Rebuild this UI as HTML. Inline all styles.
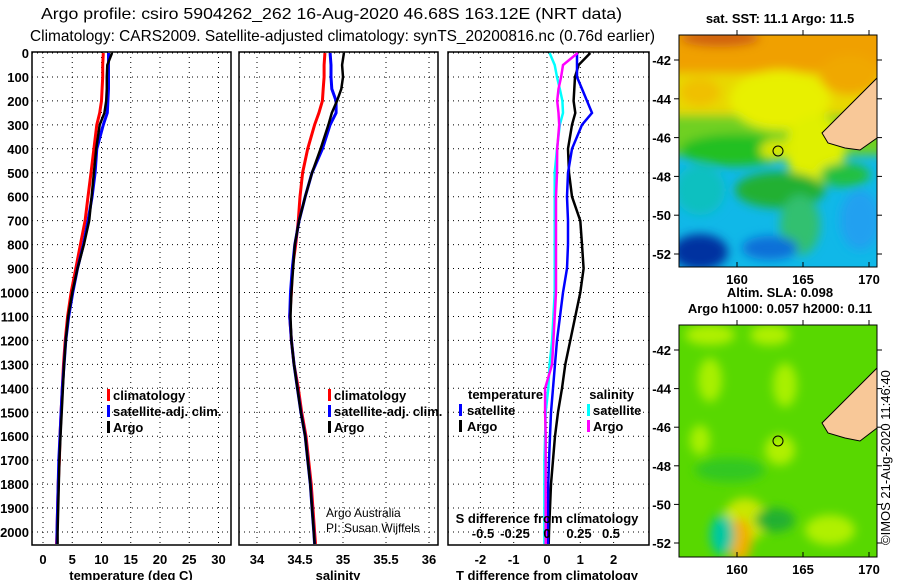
<!DOCTYPE html>
<html><head><meta charset="utf-8"><style>
body{margin:0;background:#fff}
svg{display:block;font-family:"Liberation Sans",sans-serif}
.tk{font-size:13px;font-weight:bold}
.lg{font-size:13px;font-weight:bold}
.plain{font-size:12px}
</style></head><body>
<svg id="c" width="900" height="580" viewBox="0 0 900 580">
<defs>
<filter id="bl" x="-20%" y="-20%" width="140%" height="140%"><feGaussianBlur stdDeviation="5"/></filter>
<clipPath id="m1c"><rect x="679" y="35" width="198" height="232"/></clipPath>
<clipPath id="m2c"><rect x="679" y="325" width="198" height="232"/></clipPath>
</defs>
<text x="41" y="19" font-size="16" textLength="581" lengthAdjust="spacingAndGlyphs">Argo profile: csiro 5904262_262 16-Aug-2020 46.68S 163.12E (NRT data)</text>
<text x="30" y="41" font-size="16" textLength="625" lengthAdjust="spacingAndGlyphs">Climatology: CARS2009. Satellite-adjusted climatology: synTS_20200816.nc (0.76d earlier)</text>

<g>
<text x="780" y="23" class="tk" text-anchor="middle">sat. SST: 11.1 Argo: 11.5</text>
<g clip-path="url(#m1c)">
<rect x="679" y="35" width="198" height="232" fill="#10b8e8"/>
<g filter="url(#bl)">
<rect x="670" y="115" width="220" height="40" fill="#70d020"/>
<rect x="670" y="25" width="220" height="90" fill="#e8d800"/>
<rect x="670" y="25" width="220" height="48" fill="#f0a000"/>
<ellipse cx="720" cy="38" rx="40" ry="9" fill="#d06010"/>
<ellipse cx="850" cy="75" rx="30" ry="20" fill="#f0a800"/>
<ellipse cx="700" cy="92" rx="20" ry="14" fill="#f0c000"/>
<ellipse cx="780" cy="100" rx="50" ry="30" fill="#e8f000"/>
<ellipse cx="815" cy="150" rx="30" ry="35" fill="#e0f000"/>
<ellipse cx="735" cy="150" rx="55" ry="16" fill="#20c020"/>
<ellipse cx="780" cy="190" rx="45" ry="18" fill="#20b030"/>
<ellipse cx="845" cy="175" rx="25" ry="12" fill="#20c040"/>
<ellipse cx="775" cy="150" rx="15" ry="10" fill="#d8e800"/>
<ellipse cx="700" cy="190" rx="25" ry="25" fill="#10c0c0"/>
<ellipse cx="800" cy="225" rx="20" ry="30" fill="#30c070"/>
<ellipse cx="700" cy="252" rx="28" ry="18" fill="#0030a0"/>
<ellipse cx="770" cy="248" rx="28" ry="12" fill="#1070d8"/>
<ellipse cx="860" cy="220" rx="20" ry="30" fill="#20a0f0"/>
</g>
<path d="M877,78 L865,90 L850,105 L835,120 L822,133 L828,143 L845,148 L860,150 L877,138 Z" fill="#f8c898" stroke="#000" stroke-width="1"/>
<circle cx="778" cy="151" r="5" fill="none" stroke="#000"/>
</g>
<rect x="679" y="35" width="198" height="232" fill="none" stroke="#000"/>
</g>

<g>
<text x="780" y="297" class="tk" text-anchor="middle">Altim. SLA: 0.098</text>
<text x="780" y="313" class="tk" text-anchor="middle">Argo h1000: 0.057 h2000: 0.11</text>
<g clip-path="url(#m2c)">
<rect x="679" y="325" width="198" height="232" fill="#58d800"/>
<g filter="url(#bl)">
<ellipse cx="710" cy="335" rx="25" ry="10" fill="#b0f000"/>
<ellipse cx="770" cy="335" rx="20" ry="10" fill="#b0f000"/>
<ellipse cx="710" cy="380" rx="12" ry="22" fill="#a8f000"/>
<ellipse cx="785" cy="385" rx="12" ry="22" fill="#a8f000"/>
<ellipse cx="730" cy="470" rx="35" ry="12" fill="#30c820"/>
<ellipse cx="700" cy="440" rx="10" ry="15" fill="#a8f000"/>
<ellipse cx="780" cy="450" rx="15" ry="15" fill="#b0f000"/>
<ellipse cx="745" cy="520" rx="22" ry="22" fill="#c8e800"/>
<ellipse cx="740" cy="540" rx="12" ry="22" fill="#f0b000"/>
<ellipse cx="722" cy="535" rx="12" ry="20" fill="#00c8a0"/>
<ellipse cx="775" cy="520" rx="20" ry="12" fill="#20b030"/>
<ellipse cx="830" cy="530" rx="25" ry="15" fill="#b0f000"/>
</g>
<path d="M877,368 L865,380 L850,395 L835,410 L822,423 L828,433 L845,438 L860,441 L877,428 Z" fill="#f8c898" stroke="#000" stroke-width="1"/>
<circle cx="778" cy="441" r="5" fill="none" stroke="#000"/>
</g>
<rect x="679" y="325" width="198" height="232" fill="none" stroke="#000"/>
<text x="890" y="545" font-size="13" transform="rotate(-90 890 545)">©IMOS 21-Aug-2020 11:46:40</text>
</g>
<g id="plots"></g>
</svg>
<script>
const depths=[0,50,100,150,200,250,300,400,500,600,700,800,900,1000,1100,1200,1300,1400,1500,1600,1700,1800,1900,2000,2050];
const tempArgo=[11.8,11.0,10.9,10.9,10.8,10.5,9.7,9.1,8.7,8.3,7.9,7.0,5.9,5.0,4.3,3.9,3.6,3.4,3.2,3.0,2.8,2.7,2.6,2.5,2.5];
const tempClim=[10.3,10.2,10.2,10.1,10.0,9.7,9.2,8.7,8.2,7.7,7.2,6.4,5.6,4.8,4.2,3.8,3.5,3.3,3.1,2.9,2.8,2.6,2.5,2.4,2.3];
const tempSat=[11.2,11.2,11.2,11.2,11.1,11.0,10.3,9.2,8.9,8.4,7.7,6.9,5.9,5.1,4.4,3.9,3.6,3.3,3.1,2.9,2.7,2.6,2.5,2.4,2.4];
const salArgo=[35.01,34.99,35.00,34.98,34.93,34.87,34.83,34.74,34.64,34.56,34.49,34.44,34.42,34.40,34.39,34.40,34.43,34.47,34.51,34.56,34.59,34.62,34.64,34.66,34.67];
const salClim=[34.79,34.78,34.78,34.77,34.76,34.72,34.67,34.59,34.53,34.50,34.48,34.45,34.41,34.40,34.38,34.40,34.43,34.48,34.52,34.57,34.60,34.63,34.65,34.67,34.68];
const salSat=[34.85,34.86,34.86,34.87,34.92,34.92,34.85,34.76,34.64,34.56,34.49,34.44,34.41,34.39,34.38,34.40,34.43,34.47,34.51,34.56,34.59,34.62,34.64,34.66,34.67];
const dTArgo=[1.3,0.95,0.84,0.82,0.8,0.85,0.75,0.63,0.66,0.75,1.0,1.05,1.1,1.0,0.85,0.7,0.55,0.45,0.33,0.24,0.18,0.12,0.09,0.06,0.05];
const dTSat=[0.9,0.9,0.9,1.05,1.2,1.35,1.05,0.75,0.63,0.6,0.63,0.63,0.6,0.48,0.39,0.3,0.24,0.18,0.12,0.09,0.06,0.04,0.03,0.03,0.03];
const dSArgo=[0.24,0.125,0.11,0.09,0.08,0.09,0.095,0.08,0.078,0.07,0.07,0.07,0.07,0.07,0.06,0.05,0.04,-0.015,-0.015,-0.01,-0.01,-0.01,-0.01,-0.01,-0.01];
const dSCyan=[0.02,0.06,0.078,0.1,0.12,0.125,0.1,0.078,0.06,0.06,0.06,0.06,0.06,0.06,0.05,0.04,0.02,0.01,-0.01,-0.015,-0.02,-0.02,-0.02,-0.02,-0.02];
const depthTicks=[0,100,200,300,400,500,600,700,800,900,1000,1100,1200,1300,1400,1500,1600,1700,1800,1900,2000];
const tempTicks=[0,5,10,15,20,25,30];
const salTicks=[34,34.5,35,35.5,36];
const dTTicks=[-2,-1,0,1,2];
const dSTicks=[-0.5,-0.25,0,0.25,0.5];
const lonTicks=[160,165,170];
const latTicks=[-42,-44,-46,-48,-50,-52];

const NS='http://www.w3.org/2000/svg';
const G=document.getElementById('plots');
function el(t,a,p){const e=document.createElementNS(NS,t);for(const k in a)e.setAttribute(k,a[k]);(p||G).appendChild(e);return e;}
const yD=d=>53+d*0.2395;
const xT=v=>43+v*5.85;
const xS=v=>257+(v-34)*86;
const xDT=v=>547+v*33.3;
const xDS=v=>547+v*128;
const TOP=52,BOT=545;

function panel(name,x0,x1,ticks,xf,labelY){
  const g=el('g',{});
  
  
  ticks.forEach(t=>{const l=el('line',{x1:xf(t),x2:xf(t),y1:TOP,y2:BOT,stroke:'#000','stroke-dasharray':'1 4'},g);
    
    
    if(labelY){const tx=el('text',{x:xf(t),y:labelY,'text-anchor':'middle',class:'tk'},g);tx.textContent=t;
    
    }});
  depthTicks.forEach(d=>{const l=el('line',{x1:x0,x2:x1,y1:yD(d),y2:yD(d),stroke:'#000','stroke-dasharray':'1 4'},g);
    
    });
  const r=el('rect',{x:x0,y:TOP,width:x1-x0,height:BOT-TOP,fill:'none',stroke:'#000','stroke-width':1.5},g);
  
  
  return g;
}
function series(g,name,vals,xf,color,w){
  const pts=[];
  vals.forEach((v,i)=>{pts.push(xf(v).toFixed(1)+','+yD(depths[i]).toFixed(1));});
  const p=el('polyline',{points:pts.join(' '),fill:'none',stroke:color,'stroke-width':w||2.5},g);
  
  
}
function txt(g,name,x,y,s,cls,anchor,color){
  const t=el('text',{x:x,y:y,class:cls||'lg','text-anchor':anchor||'start',fill:color||'#000'},g);
  t.textContent=s;
  
  
}
function key(g,name,x,y,color){
  const r=el('rect',{x:x,y:y-11,width:3,height:12,fill:color},g);
  
  
}

// Panel 1
const p1=panel('temperature-panel',32,231,tempTicks,xT,564);
depthTicks.forEach(d=>txt(p1,'y-tick-label',29,yD(d)+5,d,'tk','end'));
series(p1,'temp-climatology',tempClim,xT,'#f00',3);
series(p1,'temp-satellite-adj',tempSat,xT,'#00f',3);
series(p1,'temp-argo',tempArgo,xT,'#000',2.5);
txt(p1,'x-axis-title',131,580,'temperature (deg C)','tk','middle');
key(p1,'legend-key-clim',107,400,'#f00');txt(p1,'legend-climatology',113,400,'climatology');
key(p1,'legend-key-sat',107,416,'#00f');txt(p1,'legend-satellite',113,416,'satellite-adj. clim.');
key(p1,'legend-key-argo',107,432,'#000');txt(p1,'legend-argo',113,432,'Argo');

// Panel 2
const p2=panel('salinity-panel',239,438,salTicks,xS,564);
series(p2,'sal-climatology',salClim,xS,'#f00',3);
series(p2,'sal-satellite-adj',salSat,xS,'#00f',3);
series(p2,'sal-argo',salArgo,xS,'#000',2.5);
txt(p2,'x-axis-title',338,580,'salinity','tk','middle');
key(p2,'legend-key-clim',328,400,'#f00');txt(p2,'legend-climatology',334,400,'climatology');
key(p2,'legend-key-sat',328,416,'#00f');txt(p2,'legend-satellite',334,416,'satellite-adj. clim.');
key(p2,'legend-key-argo',328,432,'#000');txt(p2,'legend-argo',334,432,'Argo');
txt(p2,'credit-argo-australia',326,517,'Argo Australia','plain','start');
txt(p2,'credit-pi',326,532,'PI: Susan Wijffels','plain','start');

// Panel 3
const p3=panel('difference-panel',448,649,dTTicks,xDT,564);
series(p3,'dT-argo',dTArgo,xDT,'#000');
series(p3,'dT-satellite',dTSat,xDT,'#00f');
series(p3,'dS-satellite',dSCyan,xDS,'#0ff');
series(p3,'dS-argo',dSArgo,xDS,'#f0f');
dSTicks.forEach(t=>txt(p3,'s-tick-label',xDS(t),538,t,'tk','middle'));
txt(p3,'s-axis-title',547,523,'S difference from climatology','tk','middle');
txt(p3,'x-axis-title',547,580,'T difference from climatology','tk','middle');
txt(p3,'legend-temperature-head',468,399,'temperature');
key(p3,'legend-key-tsat',459,415,'#00f');txt(p3,'legend-t-satellite',467,415,'satellite');
key(p3,'legend-key-targo',459,431,'#000');txt(p3,'legend-t-argo',467,431,'Argo');
txt(p3,'legend-salinity-head',634,399,'salinity','lg','end');
key(p3,'legend-key-ssat',587,415,'#0ff');txt(p3,'legend-s-satellite',593,415,'satellite');
key(p3,'legend-key-sargo',587,431,'#f0f');txt(p3,'legend-s-argo',593,431,'Argo');

// Map axes
function mapAxes(y0,y1,latTop,latSpan){
  const lonX=l=>737+(l-160)*13.2;
  const g=el('g',{});
  
  
  lonTicks.forEach(l=>{el('line',{x1:lonX(l),x2:lonX(l),y1:y1,y2:y1-5,stroke:'#000'},g);el('line',{x1:lonX(l),x2:lonX(l),y1:y0,y2:y0-5,stroke:'#000'},g);
    txt(g,'lon-tick-label',lonX(l),y1+17,l,'tk','middle');});
  latTicks.forEach(a=>{const y=latTop+(-42-a)*latSpan;el('line',{x1:674,x2:679,y1:y,y2:y,stroke:'#000'},g);el('line',{x1:877,x2:882,y1:y,y2:y,stroke:'#000'},g);
    txt(g,'lat-tick-label',671,y+5,a,'tk','end');});
}
mapAxes(35,267,60,19.4);
mapAxes(325,557,350,19.3);
</script>
</body></html>
